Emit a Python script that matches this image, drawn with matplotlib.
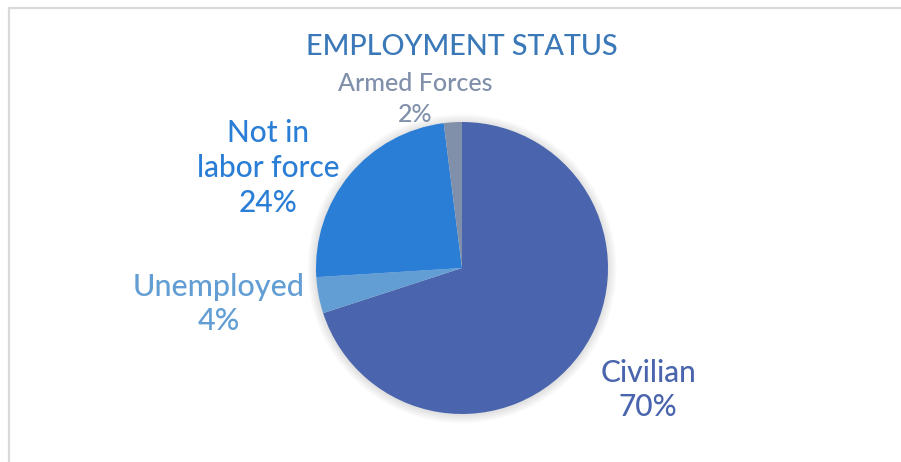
import matplotlib
matplotlib.use("Agg")
import matplotlib.pyplot as plt
from matplotlib.patches import Circle, Rectangle

categories = ["Civilian", "Unemployed", "Not in\nlabor force", "Armed Forces"]
values = [70, 4, 24, 2]
colors = ["#4A65AD", "#629ED3", "#2A7ED6", "#8090AA"]
label_colors = ["#4A65AD", "#629ED3", "#2A7ED6", "#8090AA"]
title = "EMPLOYMENT STATUS"

plt.rcParams['font.family'] = ['Lato', 'DejaVu Sans']

W, H = 901, 462
fig = plt.figure(figsize=(W / 100, H / 100), dpi=100)
fig.patch.set_facecolor("white")

# outer light border (chart area frame)
fig.add_artist(Rectangle((8.5 / W, -0.1), 2.0, (H - 8.5) / H + 0.1,
                         transform=fig.transFigure, fill=False,
                         edgecolor="#D9D9D9", linewidth=1.6))

cx, cy, R = 462, 268, 146
ax = fig.add_axes([(cx - R) / W, (H - cy - R) / H, 2 * R / W, 2 * R / H])

wedges, _ = ax.pie(values, colors=colors, startangle=90, counterclock=False,
                   radius=1.0, wedgeprops=dict(linewidth=0))
for w in wedges:
    w.set_zorder(2)
ax.set_xlim(-1, 1)
ax.set_ylim(-1, 1)
ax.axis("off")

# soft shadow
for i in range(10):
    ax.add_patch(Circle((0, -0.005), 1.0 + 0.006 * (i + 1), color="black",
                        alpha=0.012, linewidth=0, zorder=0, clip_on=False))

def to_data(px, py):
    return (px - cx) / R, (cy - py) / R

def lab(text, px, py, color, size, ls):
    x, y = to_data(px, py)
    ax.text(x, y, text, ha="center", va="center", color=color, fontsize=size,
            linespacing=ls, clip_on=False, fontweight="medium")

pct = [f"{v}%" for v in values]
lab(categories[0] + "\n" + pct[0], 648, 390, label_colors[0], 21.5, 1.3)
lab(categories[1] + "\n" + pct[1], 219, 304, label_colors[1], 22, 1.3)
lab(categories[2] + "\n" + pct[2], 268, 168, label_colors[2], 21.5, 1.3)
lab(categories[3] + "\n" + pct[3], 415, 99, label_colors[3], 18, 1.42)

fig.text(462 / W, (H - 47) / H, title, ha="center", va="center",
         color="#3A78B8", fontsize=20.7, fontweight="medium")

fig.savefig("out.png", dpi=100, facecolor="white")
